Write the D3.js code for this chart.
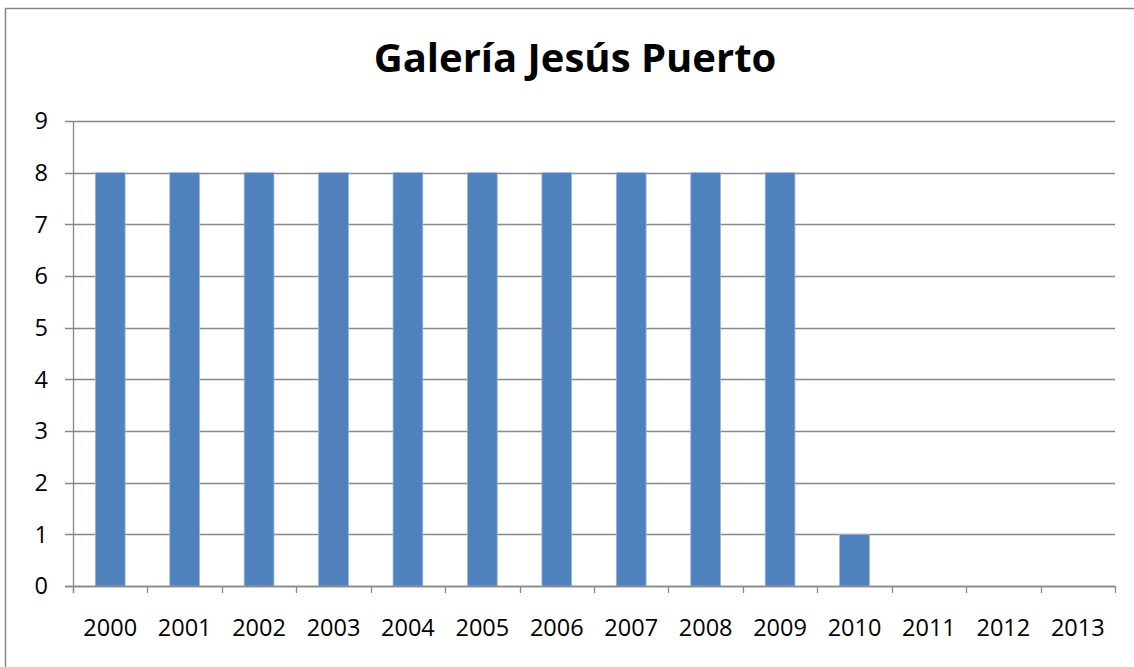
<!DOCTYPE html>
<html>
<head>
<meta charset="utf-8">
<script src="https://cdn.jsdelivr.net/npm/d3@7"></script>
<style>
  html, body { margin: 0; padding: 0; background: #fff; }
  svg { display: block; }
  text { font-family: "Open Sans", "Noto Sans", sans-serif; fill: #000; }
</style>
</head>
<body>
<svg id="chart" width="1134" height="667"></svg>
<script>
const title = "Galería Jesús Puerto";
const categories = ["2000","2001","2002","2003","2004","2005","2006","2007","2008","2009","2010","2011","2012","2013"];
const values = [8, 8, 8, 8, 8, 8, 8, 8, 8, 8, 1, 0, 0, 0];
const yTicks = [0, 1, 2, 3, 4, 5, 6, 7, 8, 9];

const W = 1134, H = 667;
const margin = { left: 73, right: 19, top: 121, bottom: 81 };
const svg = d3.select("#chart");

svg.append("rect")
  .attr("x", 5.5).attr("y", 8.5)
  .attr("width", W + 20).attr("height", H + 20)
  .attr("fill", "#fff").attr("stroke", "#868686").attr("stroke-width", 1.5);

const x = d3.scaleBand()
  .domain(categories)
  .range([margin.left, W - margin.right])
  .paddingInner(0.6).paddingOuter(0.3);

const y = d3.scaleLinear()
  .domain([0, 9])
  .range([H - margin.bottom, margin.top]);

svg.append("g").selectAll("line")
  .data(yTicks)
  .join("line")
  .attr("x1", margin.left - 8).attr("x2", W - margin.right)
  .attr("y1", d => Math.round(y(d)) + 0.5).attr("y2", d => Math.round(y(d)) + 0.5)
  .attr("stroke", "#888").attr("stroke-width", 1.3);

svg.append("g").selectAll("rect")
  .data(categories.map((c, i) => ({ c, v: values[i] })).filter(d => d.v > 0))
  .join("rect")
  .attr("x", d => x(d.c))
  .attr("width", x.bandwidth())
  .attr("y", d => y(d.v))
  .attr("height", d => y(0) - y(d.v))
  .attr("fill", "#4F81BD")
  .attr("stroke", "#9DB6D8").attr("stroke-width", 0.8);

svg.append("line")
  .attr("x1", margin.left + 0.5).attr("x2", margin.left + 0.5)
  .attr("y1", y(9)).attr("y2", y(0) + 7)
  .attr("stroke", "#888").attr("stroke-width", 1.3);

const bounds = d3.range(categories.length + 1).map(i => margin.left + i * (W - margin.right - margin.left) / categories.length);
svg.append("g").selectAll("line")
  .data(bounds)
  .join("line")
  .attr("x1", d => Math.round(d) + 0.5).attr("x2", d => Math.round(d) + 0.5)
  .attr("y1", y(0)).attr("y2", y(0) + 7)
  .attr("stroke", "#888").attr("stroke-width", 1.3);

svg.append("line")
  .attr("x1", margin.left - 8).attr("x2", W - margin.right)
  .attr("y1", Math.round(y(0)) + 0.5).attr("y2", Math.round(y(0)) + 0.5)
  .attr("stroke", "#888").attr("stroke-width", 1.3);

const labelSize = 23.5;

svg.append("g").selectAll("text")
  .data(yTicks)
  .join("text")
  .attr("x", 48)
  .attr("y", d => y(d))
  .attr("dy", "0.36em")
  .attr("text-anchor", "end")
  .attr("font-size", labelSize)
  .text(d => d);

svg.append("g").selectAll("text")
  .data(categories)
  .join("text")
  .attr("x", d => x(d) + x.bandwidth() / 2)
  .attr("y", 636)
  .attr("text-anchor", "middle")
  .attr("font-size", labelSize)
  .text(d => d);

svg.append("text")
  .attr("x", 575)
  .attr("y", 72)
  .attr("text-anchor", "middle")
  .attr("font-size", 40)
  .attr("font-weight", "bold")
  .text(title);
</script>
</body>
</html>
